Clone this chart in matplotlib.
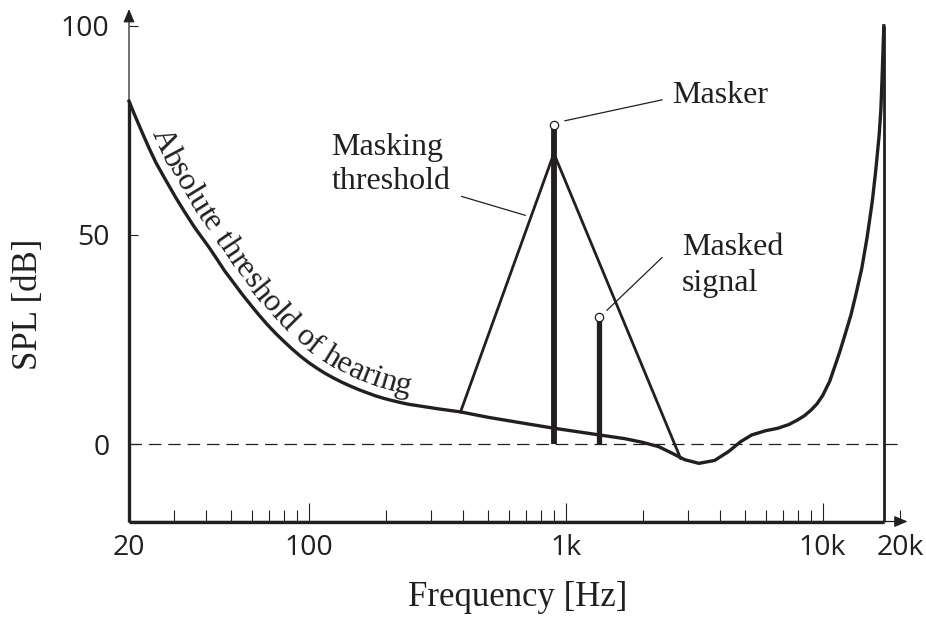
import numpy as np
import matplotlib
matplotlib.use('Agg')
import matplotlib.pyplot as plt
from matplotlib.font_manager import FontProperties, findfont
from matplotlib.ft2font import FT2Font
from matplotlib.ticker import FixedLocator, FixedFormatter

INK = '#231f20'
SERIF = 'Liberation Serif'

# absolute threshold of hearing (Hz, dB SPL)
ath_freq = [20, 21, 22.5, 24, 25.5, 27.5, 30.5, 33, 36, 40.9, 44, 47, 51, 55, 60, 64, 69,
            74.6, 80, 86, 93, 100, 108, 116, 125, 134.6, 145, 157, 170, 183, 197, 212, 229,
            246, 265, 285, 322, 390, 500, 700, 900, 1350, 1700, 2000, 2300,
            2600, 2900, 3300, 3800, 4300, 4800, 5300, 6000, 6700, 7400, 8000, 8500, 9000,
            9500, 10000, 10650, 11100, 11650, 12200, 12900, 13500, 14200, 14900, 15600,
            16100, 16600, 16850, 17000, 17150, 17300]
ath_spl = [82, 78.8, 74.5, 70.6, 67.2, 63.6, 58.8, 55.4, 51.8, 47.1, 44.2, 41.5, 38.6, 35.9,
           33.0, 30.9, 28.6, 26.4, 24.6, 22.8, 21.0, 19.5, 18.1, 16.9, 15.8, 14.8, 13.9, 13.0,
           12.2, 11.5, 10.9, 10.4, 9.9, 9.5, 9.2, 8.9, 8.4, 7.7, 6.4, 4.9, 3.8, 2.2, 1.3, 0.4,
           -0.6, -2.2, -3.7, -4.6, -3.9, -1.8, 0.6, 2.2, 3.2, 3.8, 4.7, 5.8, 6.8, 8.1,
           9.6, 11.6, 15, 18.2, 22, 26, 31, 36, 42, 49.5, 58,
           65.5, 74, 80, 86, 93, 100]

# masking threshold triangle
mask_freq = [390, 900, 2800]
mask_spl = [7.7, 69.5, -3.4]

# tones
masker_freq, masker_spl = 900, 76.4
masked_freq, masked_spl = 1350, 30.5

# axes ticks
x_major = [20, 100, 1000, 10000]
x_major_labels = ['20', '100', '1k', '10k']
x_minor = [30, 40, 50, 60, 70, 80, 90,
           200, 300, 400, 500, 600, 700, 800, 900,
           2000, 3000, 4000, 5000, 6000, 7000, 8000, 9000, 20000]
x_minor_labels = [''] * (len(x_minor) - 1) + ['20k']
y_ticks = [0, 50, 100]

plt.rcParams['font.family'] = 'Open Sans'

fig = plt.figure(figsize=(9.26, 6.28), dpi=100)
ax = fig.add_axes([129 / 926, (628 - 521.5) / 628, 786.6 / 926, 520.8 / 628])
ax.set_xscale('log')
ax.set_xlim(20, 23000)
ax.set_ylim(-18.5, 106)
for sp in ax.spines.values():
    sp.set_visible(False)

f_lo, f_hi = 20, 17300
y_lo = -18.5

# thin axis arrows
arrow = dict(arrowstyle='-|>,head_length=0.4,head_width=0.17', lw=0.9, color=INK,
             shrinkA=0, shrinkB=0, mutation_scale=20)
ax.annotate('', xy=(20, 104), xytext=(20, y_lo), arrowprops=arrow, annotation_clip=False)
ax.annotate('', xy=(21400, y_lo), xytext=(20, y_lo), arrowprops=arrow, annotation_clip=False)

# 0 dB reference
ax.plot([20, 20500], [0, 0], color=INK, lw=0.9, dashes=(10, 5.5), clip_on=False)

# thick outline: left edge, curve, right edge, floor
ax.plot([f_lo, f_lo], [y_lo, ath_spl[0]], color=INK, lw=2.4, clip_on=False,
        solid_capstyle='butt')
ax.plot([f_hi, f_hi], [y_lo, ath_spl[-1]], color=INK, lw=2.0, clip_on=False,
        solid_capstyle='butt')
ax.plot([f_lo, f_hi], [y_lo, y_lo], color=INK, lw=2.4, clip_on=False,
        solid_capstyle='butt')
ax.plot(ath_freq, ath_spl, color=INK, lw=2.4, clip_on=False, solid_joinstyle='round')

# masking threshold
ax.plot(mask_freq, mask_spl, color=INK, lw=2.0, solid_joinstyle='miter')

# masker and masked signal
ax.plot([masker_freq, masker_freq], [0, masker_spl], color=INK, lw=4.2,
        solid_capstyle='butt')
ax.plot([masked_freq, masked_freq], [0, masked_spl], color=INK, lw=3.8,
        solid_capstyle='butt')
ax.plot([masker_freq, masked_freq], [masker_spl, masked_spl], ls='none', marker='o',
        ms=6, mfc='white', mec=INK, mew=0.9, zorder=5)

# annotations
lbl = dict(family=SERIF, size=23, color=INK, va='baseline', ha='left')
ax.plot([994, 2372], [77.3, 82.3], color=INK, lw=0.9)
ax.text(2590, 81.6, 'Masker', **lbl)
ax.plot([394, 696], [59.2, 54.7], color=INK, lw=0.9)
ax.text(122.5, 69.2, 'Masking', **lbl)
ax.text(122.5, 60.9, 'threshold', **lbl)
ax.plot([1448, 2372], [32.0, 44.6], color=INK, lw=0.9)
ax.text(2840, 45.1, 'Masked', **lbl)
ax.text(2840, 36.5, 'signal', **lbl)

# ticks
ax.set_xticks(x_major)
ax.set_xticklabels(x_major_labels)
ax.xaxis.set_minor_locator(FixedLocator(x_minor))
ax.xaxis.set_minor_formatter(FixedFormatter(x_minor_labels))
ax.tick_params(axis='x', which='major', direction='in', length=13.7, width=0.8,
               color=INK, pad=9, labelsize=20.5, labelcolor=INK)
ax.tick_params(axis='x', which='minor', direction='in', length=8.6, width=0.8,
               color=INK, pad=9, labelsize=20.5, labelcolor=INK)
ax.set_yticks(y_ticks)
ax.tick_params(axis='y', direction='in', length=6.5, width=0.8, color=INK,
               pad=14, labelsize=20.5, labelcolor=INK)

ax.set_xlabel('Frequency [Hz]', family=SERIF, size=25, color=INK)
ax.xaxis.set_label_coords(0.4945, -0.114)
ax.set_ylabel('SPL [dB]', family=SERIF, size=25, color=INK)
ax.yaxis.set_label_coords(-0.107, 0.4176)


# "Absolute threshold of hearing" written along the curve
def text_along_curve(text, xs, ys, x_start_px, offset_px, fp):
    pts = ax.transData.transform(np.column_stack([xs, ys]))
    d = np.gradient(pts, axis=0)
    t = d / np.linalg.norm(d, axis=1)[:, None]
    nrm = np.column_stack([-t[:, 1], t[:, 0]])
    q = pts + nrm * offset_px
    s = np.concatenate([[0], np.cumsum(np.hypot(*np.diff(q, axis=0).T))])

    def at(si):
        return np.array([np.interp(si, s, q[:, 0]), np.interp(si, s, q[:, 1])])

    font = FT2Font(findfont(fp))
    font.set_size(fp.get_size_in_points(), fig.dpi)
    pos = np.interp(x_start_px, q[:, 0], s)
    inv = ax.transData.inverted()
    for c in text:
        adv = font.load_char(ord(c)).linearHoriAdvance / 65536
        if c != ' ':
            p0, p1 = at(pos), at(pos + adv)
            pm = at(pos + adv / 2)
            ang = np.degrees(np.arctan2(p1[1] - p0[1], p1[0] - p0[0]))
            xd, yd = inv.transform(pm)
            ax.text(xd, yd, c, rotation=ang, rotation_mode='anchor', ha='center',
                    va='baseline', fontproperties=fp, color=INK, clip_on=False)
        pos += adv


n_guide = 38
text_along_curve('Absolute threshold of hearing', ath_freq[:n_guide], ath_spl[:n_guide],
                 152, 9, FontProperties(family=SERIF, size=23))

fig.savefig('out.png', dpi=100)
